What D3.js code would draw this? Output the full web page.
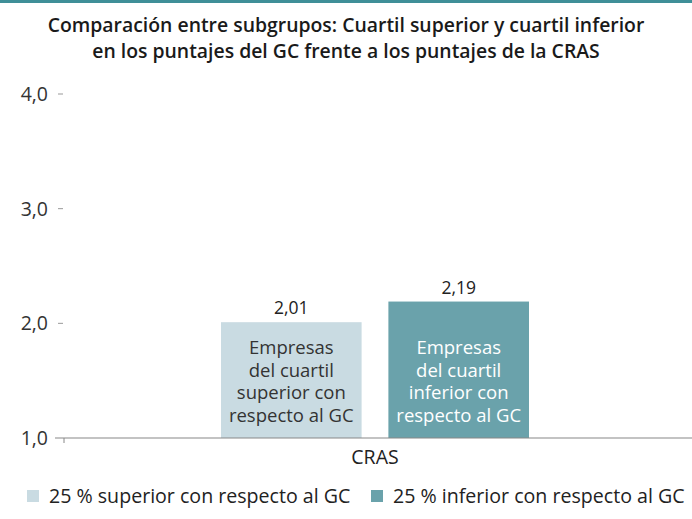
<!DOCTYPE html>
<html>
<head>
<meta charset="utf-8">
<script src="https://cdn.jsdelivr.net/npm/d3@7"></script>
<style>
  body { margin: 0; background: #fff; }
  text { font-family: "Open Sans", sans-serif; }
</style>
</head>
<body>
<div id="chart"></div>
<script>
var width = 692,
  height = 519;

// data
var categories = ["CRAS"];
var seriesNames = ["25 % superior con respecto al GC", "25 % inferior con respecto al GC"];
var seriesValues = [2.01, 2.19];
var valueLabels = ["2,01", "2,19"];
var barLabels = [
  ["Empresas", "del cuartil", "superior con", "respecto al GC"],
  ["Empresas", "del cuartil", "inferior con", "respecto al GC"]
];
var yTicks = [1, 2, 3, 4];
var colors = ["#c9dbe2", "#6aa2ab"];
var titleLines = [
  "Comparación entre subgrupos: Cuartil superior y cuartil inferior",
  "en los puntajes del GC frente a los puntajes de la CRAS"
];

var svg = d3.select("#chart")
  .append("svg")
  .attr("width", width)
  .attr("height", height);

// teal strip on top
svg.append("rect")
  .attr("x", 0).attr("y", 0)
  .attr("width", width).attr("height", 3)
  .attr("fill", "#3f8f98");

svg.selectAll(".title")
  .data(titleLines)
  .enter()
  .append("text")
  .attr("class", "title")
  .attr("x", 346)
  .attr("y", function (d, i) { return 32 + i * 26; })
  .attr("text-anchor", "middle")
  .style("font-size", "19.4px")
  .style("font-weight", "600")
  .style("fill", "#1a1a1a")
  .text(function (d) { return d; });

var y = d3.scaleLinear().domain([1, 4]).range([438, 94]);

var x = d3.scaleBand().domain(categories).range([64, 692]);
var xs = d3.scaleBand().domain(d3.range(seriesValues.length))
  .range([221, 529]).paddingInner(0.16);

// y axis labels + dashes
var yAxis = svg.append("g");
yAxis.selectAll("text")
  .data(yTicks)
  .enter()
  .append("text")
  .attr("x", 48)
  .attr("y", function (d) { return y(d) + 7; })
  .attr("text-anchor", "end")
  .style("font-size", "19.5px")
  .style("fill", "#333")
  .text(function (d) { return d3.format(".1f")(d).replace(".", ","); });
yAxis.selectAll("line")
  .data(yTicks.slice(1))
  .enter()
  .append("line")
  .attr("x1", 58).attr("x2", 63)
  .attr("y1", function (d) { return y(d); })
  .attr("y2", function (d) { return y(d); })
  .attr("stroke", "#999");

// bars
var bars = svg.selectAll(".bar")
  .data(seriesValues)
  .enter()
  .append("g")
  .attr("class", "bar");

bars.append("rect")
  .attr("x", function (d, i) { return xs(i); })
  .attr("y", function (d) { return y(d); })
  .attr("width", xs.bandwidth())
  .attr("height", function (d) { return y(1) - y(d); })
  .attr("fill", function (d, i) { return colors[i]; });

bars.append("text")
  .attr("x", function (d, i) { return xs(i) + xs.bandwidth() / 2; })
  .attr("y", function (d) { return y(d) - 8; })
  .attr("text-anchor", "middle")
  .style("font-size", "17.5px")
  .style("fill", "#222")
  .text(function (d, i) { return valueLabels[i]; });

bars.each(function (d, i) {
  d3.select(this).selectAll(".inner")
    .data(barLabels[i])
    .enter()
    .append("text")
    .attr("class", "inner")
    .attr("x", xs(i) + xs.bandwidth() / 2)
    .attr("y", function (t, j) { return 354 + j * 22.7; })
    .attr("text-anchor", "middle")
    .style("font-size", "18.5px")
    .style("fill", i === 0 ? "#333" : "#fff")
    .text(function (t) { return t; });
});

// x axis baseline
svg.append("line")
  .attr("x1", 55).attr("x2", 692)
  .attr("y1", y(1)).attr("y2", y(1))
  .attr("stroke", "#888").attr("stroke-width", 1.2);
svg.append("line")
  .attr("x1", 64).attr("x2", 64)
  .attr("y1", y(1)).attr("y2", y(1) + 5)
  .attr("stroke", "#888");

svg.selectAll(".cat")
  .data(categories)
  .enter()
  .append("text")
  .attr("x", 375)
  .attr("y", 464)
  .attr("text-anchor", "middle")
  .style("font-size", "19.5px")
  .style("fill", "#222")
  .text(function (d) { return d; });

// legend
var legendX = [27, 371];
var legend = svg.selectAll(".legend")
  .data(seriesNames)
  .enter()
  .append("g")
  .attr("transform", function (d, i) { return "translate(" + legendX[i] + ",490)"; });
legend.append("rect")
  .attr("width", 12).attr("height", 12)
  .attr("fill", function (d, i) { return colors[i]; });
legend.append("text")
  .attr("x", 22).attr("y", 13)
  .style("font-size", "19.6px")
  .style("fill", "#222")
  .text(function (d) { return d; });
</script>
</body>
</html>
